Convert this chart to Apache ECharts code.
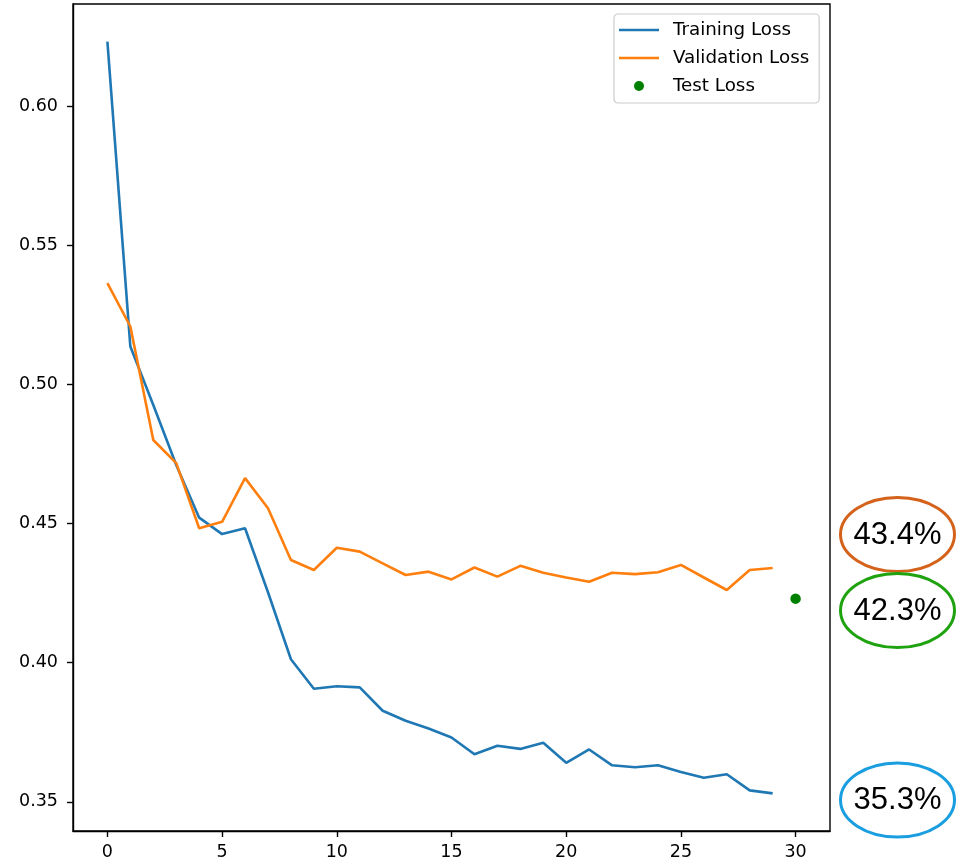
<!DOCTYPE html>
<html>
<head>
<meta charset="utf-8">
<script src="https://cdn.jsdelivr.net/npm/echarts@6/dist/echarts.min.js"></script>
<style>
  html, body { margin: 0; padding: 0; background: #ffffff; }
  #chart { width: 967px; height: 864px; }
</style>
</head>
<body>
<div id="chart"></div>
<script>
// Loss per epoch
const epochs = Array.from({ length: 30 }, (_, i) => i);
const trainingLoss = [
  0.6232, 0.5136, 0.4926, 0.4710, 0.4521, 0.4462, 0.4483, 0.4253, 0.4012, 0.3906,
  0.3915, 0.3911, 0.3827, 0.3791, 0.3763, 0.3731, 0.3671, 0.3701, 0.3690, 0.3712,
  0.3640, 0.3688, 0.3631, 0.3624, 0.3631, 0.3607, 0.3586, 0.3599, 0.3541, 0.353
];
const validationLoss = [
  0.5364, 0.5208, 0.4800, 0.4717, 0.4483, 0.4506, 0.4663, 0.4555, 0.4369, 0.4333,
  0.4413, 0.4399, 0.4357, 0.4315, 0.4327, 0.4299, 0.4342, 0.4309, 0.4348, 0.4323,
  0.4306, 0.4291, 0.4323, 0.4318, 0.4325, 0.4351, 0.4306, 0.4261, 0.4333, 0.434
];
const testEpoch = 30;
const testLoss = 0.423;

const xTicks = [0, 5, 10, 15, 20, 25, 30];
const yTicks = [0.35, 0.40, 0.45, 0.50, 0.55, 0.60];

// Axis limits with a 5% margin around the data
const allY = trainingLoss.concat(validationLoss, [testLoss]);
const yLo = Math.min(...allY), yHi = Math.max(...allY);
const yPad = (yHi - yLo) * 0.05;
const xLo = 0, xHi = testEpoch;
const xPad = (xHi - xLo) * 0.05;

const pct = v => (v * 100).toFixed(1) + '%';

const FONT = 'DejaVu Sans';
// plain horizontal stroke used as the legend handle for line series
const LINE_HANDLE = 'path://M0,0L40,0L40,2.6L0,2.6Z';

const chart = echarts.init(document.getElementById('chart'), null, { renderer: 'canvas' });

const axisCommon = {
  type: 'value',
  axisLine: { show: true, onZero: false, lineStyle: { color: '#000', width: 1.4 } },
  axisTick: { show: true, inside: false, length: 6, lineStyle: { color: '#000', width: 1.4 } },
  splitLine: { show: false }
};

chart.setOption({
  animation: false,
  backgroundColor: '#ffffff',
  grid: {
    left: 73, right: 137, top: 4, bottom: 33,
    show: true, borderColor: '#000', borderWidth: 1.4, backgroundColor: 'transparent'
  },
  legend: {
    orient: 'vertical',
    left: 614, top: 14,
    padding: [6, 10, 7, 5],
    itemWidth: 40, itemHeight: 10,
    itemGap: 8,
    backgroundColor: 'rgba(255,255,255,0.8)',
    borderColor: '#cccccc', borderWidth: 1.2, borderRadius: 4,
    textStyle: { fontFamily: FONT, fontSize: 18.3, color: '#000', lineHeight: 20, padding: [0, 0, 0, 9] },
    data: [
      { name: 'Training Loss', icon: LINE_HANDLE },
      { name: 'Validation Loss', icon: LINE_HANDLE },
      { name: 'Test Loss', icon: 'circle' }
    ]
  },
  xAxis: Object.assign({}, axisCommon, {
    min: xLo - xPad, max: xHi + xPad,
    axisLabel: {
      customValues: xTicks, margin: 12,
      fontFamily: FONT, fontSize: 17.5, color: '#000',
      formatter: v => String(v)
    },
    axisTick: Object.assign({}, axisCommon.axisTick, { customValues: xTicks })
  }),
  yAxis: Object.assign({}, axisCommon, {
    min: yLo - yPad, max: yHi + yPad,
    axisLabel: {
      customValues: yTicks, margin: 15,
      fontFamily: FONT, fontSize: 17.5, color: '#000',
      formatter: v => v.toFixed(2)
    },
    axisTick: Object.assign({}, axisCommon.axisTick, { customValues: yTicks })
  }),
  series: [
    {
      name: 'Training Loss', type: 'line', symbol: 'none',
      data: epochs.map((e, i) => [e, trainingLoss[i]]),
      lineStyle: { color: '#1f77b4', width: 2.6 }, itemStyle: { color: '#1f77b4' }
    },
    {
      name: 'Validation Loss', type: 'line', symbol: 'none',
      data: epochs.map((e, i) => [e, validationLoss[i]]),
      lineStyle: { color: '#ff7f0e', width: 2.6 }, itemStyle: { color: '#ff7f0e' }
    },
    {
      name: 'Test Loss', type: 'scatter', symbol: 'circle', symbolSize: 10.5,
      data: [[testEpoch, testLoss]],
      itemStyle: { color: '#008000', opacity: 1 }
    }
  ],
  graphic: [
    { c: validationLoss[validationLoss.length - 1], color: '#d4621a', cy: 534.5 },
    { c: testLoss, color: '#1fa20f', cy: 610.5 },
    { c: trainingLoss[trainingLoss.length - 1], color: '#1a9ee0', cy: 800 }
  ].map(a => ({
    type: 'group',
    left: 839, top: a.cy - 38.5,
    children: [
      {
        type: 'ellipse',
        shape: { cx: 58.5, cy: 38.5, rx: 57, ry: 37 },
        style: { fill: '#ffffff', stroke: a.color, lineWidth: 3 }
      },
      {
        type: 'text',
        x: 58.5, y: 39,
        style: {
          text: pct(a.c), fill: '#000',
          font: '31px "Liberation Sans", Arial, sans-serif',
          align: 'center', verticalAlign: 'middle'
        }
      }
    ]
  }))
});
</script>
</body>
</html>
